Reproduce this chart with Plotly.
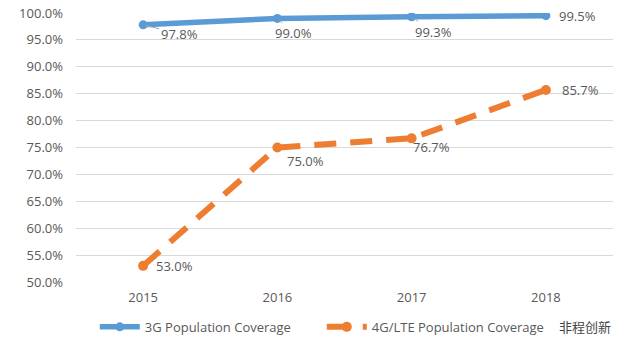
import plotly.graph_objects as go

years = ["2015", "2016", "2017", "2018"]
cov_3g = [97.8, 99.0, 99.3, 99.5]
cov_4g = [53.0, 75.0, 76.7, 85.7]
name_3g = "3G Population Coverage"
name_4g = "4G/LTE Population Coverage"

BLUE = "#5b9bd5"
ORANGE = "#ed7d31"
TXT = "#595959"
FONT = "Open Sans"

fig = go.Figure()
fig.add_trace(go.Scatter(
    x=years, y=cov_3g, name=name_3g, mode="lines+markers",
    line=dict(color=BLUE, width=5.5),
    marker=dict(color=BLUE, size=9, symbol="circle"),
))
fig.add_trace(go.Scatter(
    x=years, y=cov_4g, name=name_4g, mode="lines+markers",
    line=dict(color=ORANGE, width=6, dash="22px,14px"),
    marker=dict(color=ORANGE, size=10, symbol="circle"),
))

# data labels: (series, index, ax, ay, leader)
label_specs = [
    (cov_3g, 0, 36, 9, True),
    (cov_3g, 1, 16, 15, True),
    (cov_3g, 2, 22, 15, True),
    (cov_3g, 3, 32, 1, False),
    (cov_4g, 0, 31, 1, False),
    (cov_4g, 1, 28, 14, False),
    (cov_4g, 2, 20, 9, True),
    (cov_4g, 3, 35, 1, False),
]
for series, i, ax, ay, leader in label_specs:
    txt = f"{series[i]:.1f}%"
    if leader:
        fig.add_annotation(
            x=i, y=series[i], xref="x", yref="y", text=txt,
            showarrow=True, ax=ax, ay=ay, arrowhead=0, arrowwidth=1,
            arrowcolor="#a6a6a6", standoff=3,
            font=dict(family=FONT, size=13, color=TXT),
        )
    else:
        fig.add_annotation(
            x=i, y=series[i], xref="x", yref="y", text=txt,
            showarrow=False, xshift=ax, yshift=-ay + 1,
            font=dict(family=FONT, size=13, color=TXT),
        )

fig.add_annotation(
    x=1.0, y=-0.167, xref="paper", yref="paper", text="非程创新",
    showarrow=False, xanchor="right", yanchor="middle",
    font=dict(family="Noto Sans CJK SC", size=13, color="#444444"),
)

fig.update_layout(
    width=631, height=350,
    margin=dict(l=76, r=18, t=13, b=68, autoexpand=False),
    paper_bgcolor="white", plot_bgcolor="white",
    font=dict(family=FONT, size=13, color=TXT),
    showlegend=True,
    legend=dict(
        orientation="h", x=0.035, xref="paper", y=0.066, yref="container",
        xanchor="left", yanchor="middle",
        font=dict(family=FONT, size=13, color=TXT),
        itemwidth=40, entrywidth=172, entrywidthmode="pixels",
        bgcolor="rgba(0,0,0,0)",
    ),
)
fig.update_xaxes(
    type="category", range=[-0.5, 3.5], showgrid=False, showline=False, ticks="",
    automargin=False, ticklabelstandoff=6,
    tickfont=dict(family=FONT, size=13, color=TXT),
)
fig.update_yaxes(
    range=[50, 100], dtick=5, tick0=50, tickformat=".1f", ticksuffix="%",
    showgrid=True, gridcolor="#d9d9d9", gridwidth=1, zeroline=False,
    showline=False, ticks="", ticklabelstandoff=12, automargin=False,
    tickfont=dict(family=FONT, size=13, color=TXT),
)

fig.write_html("out.html")
